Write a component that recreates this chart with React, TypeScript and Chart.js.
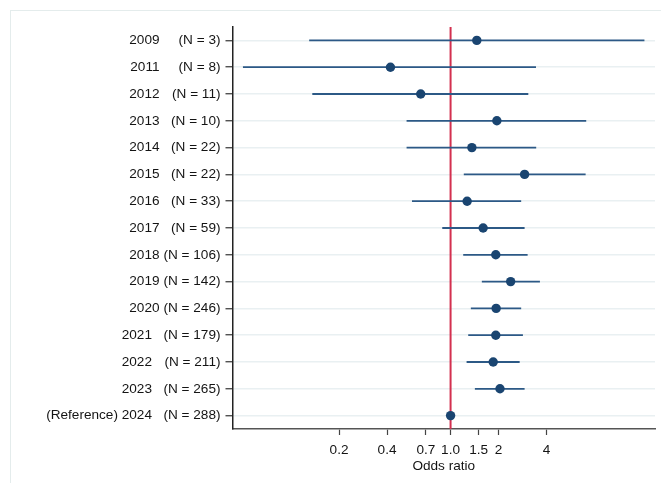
import React, { useEffect, useRef } from 'react';
import { Chart, registerables } from 'chart.js';

Chart.register(...registerables);

// Survey years, sample sizes and odds ratios with 95% confidence limits
const years = ['2009', '2011', '2012', '2013', '2014', '2015', '2016', '2017', '2018', '2019', '2020', '2021', '2022', '2023', '(Reference) 2024'];
const sampleSizes = [3, 8, 11, 10, 22, 22, 33, 59, 106, 142, 246, 179, 211, 265, 288];
const oddsRatios = [1.46, 0.42, 0.65, 1.95, 1.36, 2.91, 1.27, 1.6, 1.92, 2.38, 1.93, 1.92, 1.85, 2.04, 1.0];
const ciLower = [0.13, 0.05, 0.136, 0.53, 0.53, 1.21, 0.573, 0.887, 1.2, 1.57, 1.34, 1.29, 1.26, 1.42, null];
const ciUpper = [16.4, 3.43, 3.07, 7.08, 3.44, 7.02, 2.77, 2.91, 3.04, 3.63, 2.77, 2.84, 2.71, 2.91, null];

// x-axis ticks
const xTickValues = [0.2, 0.4, 0.7, 1.0, 1.5, 2, 4];
const xTickLabels = ['0.2', '0.4', '0.7', '1.0', '1.5', '2', '4'];
const referenceOdds = 1;

const FONT_FAMILY = "'Liberation Sans', Arial, sans-serif";
const FONT_SIZE = 13.6;
const TEXT_COLOR = '#141414';
const rowCount = years.length;

// Years from 2021 onward are set slightly further left in the label column
const yearLabel = (i: number) => (i >= 11 ? years[i] + '\u00a0\u00a0' : years[i]);

export default function App() {
  const canvasRef = useRef<HTMLCanvasElement | null>(null);

  useEffect(() => {
    const canvas = canvasRef.current;
    if (!canvas) return;

    const rowTicks = (scale: any) => {
      scale.ticks = years.map((_, i) => ({ value: i }));
    };

    const ciDatasets = oddsRatios
      .map((_, i) => i)
      .filter((i) => ciLower[i] != null && ciUpper[i] != null)
      .map((i) => ({
        label: `CI ${years[i]}`,
        data: [
          { x: ciLower[i] as number, y: i },
          { x: ciUpper[i] as number, y: i },
        ],
        showLine: true,
        borderColor: '#2c5986',
        borderWidth: 1.8,
        pointRadius: 0,
        order: 2,
      }));

    const chart = new Chart(canvas, {
      type: 'scatter',
      data: {
        datasets: [
          {
            label: 'Reference',
            data: [
              { x: referenceOdds, y: -0.5 },
              { x: referenceOdds, y: rowCount - 0.5 },
            ],
            showLine: true,
            borderColor: '#d3304f',
            borderWidth: 2,
            pointRadius: 0,
            order: 3,
          },
          ...ciDatasets,
          {
            label: 'Odds ratio',
            data: oddsRatios.map((v, i) => ({ x: v, y: i })),
            backgroundColor: '#1a4571',
            borderWidth: 0,
            pointRadius: 4.7,
            order: 1,
          },
        ],
      },
      options: {
        responsive: false,
        animation: false,
        devicePixelRatio: 1,
        layout: { padding: { top: 27, right: 6, left: 0, bottom: 0 } },
        plugins: {
          legend: { display: false },
          tooltip: { enabled: false },
        },
        scales: {
          x: {
            type: 'logarithmic',
            min: 0.043,
            max: 19.1,
            afterBuildTicks: (scale: any) => {
              scale.ticks = xTickValues.map((v) => ({ value: v }));
            },
            afterFit: (scale: any) => {
              scale.height = 54;
            },
            ticks: {
              autoSkip: false,
              maxRotation: 0,
              padding: 7,
              color: TEXT_COLOR,
              font: { family: FONT_FAMILY, size: FONT_SIZE },
              callback: (_v: any, i: number) => xTickLabels[i],
            },
            grid: {
              drawOnChartArea: false,
              drawTicks: true,
              tickLength: 6,
              tickColor: '#444',
              tickWidth: 1.2,
            },
            border: { display: true, color: '#555', width: 1.6 },
            title: {
              display: true,
              text: 'Odds ratio',
              color: TEXT_COLOR,
              font: { family: FONT_FAMILY, size: FONT_SIZE },
              padding: { top: 0, bottom: 9 },
            },
          },
          y: {
            type: 'linear',
            position: 'left',
            weight: 0,
            reverse: true,
            min: -0.5,
            max: rowCount - 0.5,
            afterBuildTicks: rowTicks,
            afterFit: (scale: any) => {
              scale.width = 72;
            },
            ticks: {
              padding: 5,
              color: TEXT_COLOR,
              font: { family: FONT_FAMILY, size: FONT_SIZE },
              callback: (v: any) => `(N = ${sampleSizes[v as number]})`,
            },
            grid: {
              color: '#e9f0f2',
              lineWidth: 1.5,
              drawTicks: true,
              tickLength: 7,
              tickColor: '#333',
              tickWidth: 1.2,
            },
            border: { display: true, color: '#222', width: 1.5 },
          },
          yYear: {
            type: 'linear',
            position: 'left',
            weight: 1,
            reverse: true,
            min: -0.5,
            max: rowCount - 0.5,
            afterBuildTicks: rowTicks,
            afterFit: (scale: any) => {
              scale.width = 160.5;
            },
            ticks: {
              padding: 1,
              color: TEXT_COLOR,
              font: { family: FONT_FAMILY, size: FONT_SIZE },
              callback: (v: any) => yearLabel(v as number),
            },
            grid: { display: false, drawTicks: false },
            border: { display: false },
          },
        },
      },
    });

    return () => chart.destroy();
  }, []);

  return (
    <div
      style={{
        position: 'fixed',
        left: 0,
        top: 0,
        width: 661,
        height: 483,
        overflow: 'hidden',
        background: '#ffffff',
      }}
    >
      <div
        style={{
          position: 'absolute',
          left: 10,
          top: 10,
          width: 700,
          height: 520,
          borderTop: '1px solid #e4ecec',
          borderLeft: '1px solid #e4ecec',
        }}
      />
      <canvas
        ref={canvasRef}
        width={661}
        height={483}
        style={{ position: 'absolute', left: 0, top: 0, display: 'block' }}
      />
    </div>
  );
}
